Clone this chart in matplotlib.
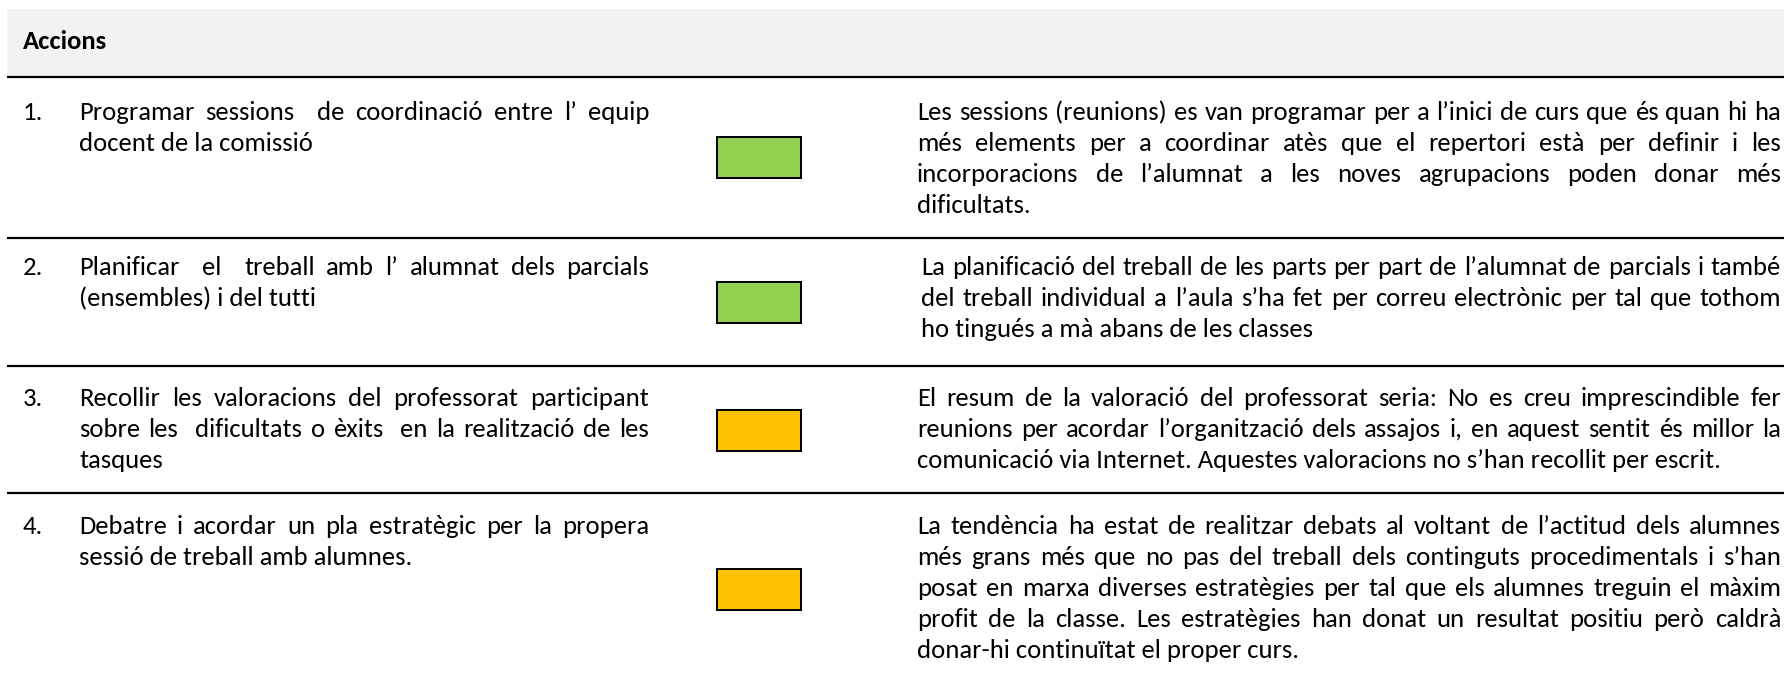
import matplotlib
matplotlib.use('Agg')
import matplotlib.pyplot as plt
import numpy as np
from matplotlib import font_manager
from matplotlib.patches import Rectangle

# table content
header = 'Accions'
numbers = ['1.', '2.', '3.', '4.']
actions = [
    ['Programar sessions  de coordinació entre l’ equip',
     'docent de la comissió'],
    ['Planificar  el  treball amb l’ alumnat dels parcials',
     '(ensembles) i del tutti'],
    ['Recollir les valoracions del professorat participant',
     'sobre les  dificultats o èxits  en la realització de les',
     'tasques'],
    ['Debatre i acordar un pla estratègic per la propera',
     'sessió de treball amb alumnes.'],
]
status_colors = ['#92D050', '#92D050', '#FFC000', '#FFC000']
comments = [
    ['Les sessions (reunions) es van programar per a l’inici de curs que és quan hi ha',
     'més elements per a coordinar atès que el repertori està per definir i les',
     'incorporacions de l’alumnat a les noves agrupacions poden donar més',
     'dificultats.'],
    ['La planificació del treball de les parts per part de l’alumnat de parcials i també',
     'del treball individual a l’aula s’ha fet per correu electrònic per tal que tothom',
     'ho tingués a mà abans de les classes'],
    ['El resum de la valoració del professorat seria: No es creu imprescindible fer',
     'reunions per acordar l’organització dels assajos i, en aquest sentit és millor la',
     'comunicació via Internet. Aquestes valoracions no s’han recollit per escrit.'],
    ['La tendència ha estat de realitzar debats al voltant de l’actitud dels alumnes',
     'més grans més que no pas del treball dels continguts procedimentals i s’han',
     'posat en marxa diverses estratègies per tal que els alumnes treguin el màxim',
     'profit de la classe. Les estratègies han donat un resultat positiu però caldrà',
     'donar-hi continuïtat el proper curs.'],
]

# layout (pixels)
W, H = 1784, 680
num_x, left_x0, left_x1 = 23, 79, 649
right_x0, right_x1 = 917, 1781
right_indent = [0, 4, 0, 0]  # row 2 comment starts with a space
box_x, box_w, box_h = 717, 84, 41
box_tops = [137, 282, 410, 569]
row_first = [113, 268, 399, 527]
line_gap = 31
rules_y = [77, 238, 366, 493]
txt_color = '#000000'

names = {f.name for f in font_manager.fontManager.ttflist}
family = 'Carlito' if 'Carlito' in names else 'Lato'

fig = plt.figure(figsize=(W / 100, H / 100), dpi=100)
ax = fig.add_axes([0, 0, 1, 1])
ax.set_xlim(0, W)
ax.set_ylim(H, 0)
ax.axis('off')
renderer = fig.canvas.get_renderer()


def text_w(s, size, weight='normal'):
    if not s:
        return 0.0
    t = ax.text(0, 0, s, fontsize=size, family=family, weight=weight)
    w = t.get_window_extent(renderer).width
    t.remove()
    return w


# fit the font size to the widths of a few unjustified lines
refs = [('docent de la comissió', 232),
        ('ho tingués a mà abans de les classes', 411),
        ('comunicació via Internet. Aquestes valoracions no s’han recollit per escrit.', 776)]
fs = float(np.mean([10 * w / text_w(s, 10) for s, w in refs]))


def draw_line(s, x0, x1, y, justify):
    base = y + 7
    if not justify:
        ax.text(x0, base, s, fontsize=fs, family=family, color=txt_color,
                va='baseline', ha='left')
        return
    tokens = s.split(' ')
    widths = [text_w(tok, fs) for tok in tokens]
    gap = (x1 - x0 - sum(widths)) / max(len(tokens) - 1, 1)
    x = x0
    for tok, wd in zip(tokens, widths):
        if tok:
            ax.text(x, base, tok, fontsize=fs, family=family, color=txt_color,
                    va='baseline', ha='left')
        x += wd + gap


# header band
ax.add_patch(Rectangle((7, 9), W - 7, rules_y[0] - 9, facecolor='#F2F2F2',
                       edgecolor='none', zorder=0))
ax.text(num_x, 42 + 7, header, fontsize=fs, family=family, weight='bold',
        color=txt_color, va='baseline', ha='left')

for y in rules_y:
    ax.plot([7, W], [y, y], color='black', linewidth=2.2 * 0.72,
            solid_capstyle='butt')

for i in range(len(numbers)):
    y0 = row_first[i]
    ax.text(num_x, y0 + 7, numbers[i], fontsize=fs, family=family,
            color=txt_color, va='baseline', ha='left')
    lines = actions[i]
    for j, s in enumerate(lines):
        draw_line(s, left_x0, left_x1, y0 + j * line_gap, j < len(lines) - 1)
    lines = comments[i]
    for j, s in enumerate(lines):
        draw_line(s, right_x0 + right_indent[i], right_x1, y0 + j * line_gap,
                  j < len(lines) - 1)
    ax.add_patch(Rectangle((box_x, box_tops[i]), box_w, box_h,
                           facecolor=status_colors[i], edgecolor='black',
                           linewidth=2 * 0.72))

fig.savefig('out.png', dpi=100)
